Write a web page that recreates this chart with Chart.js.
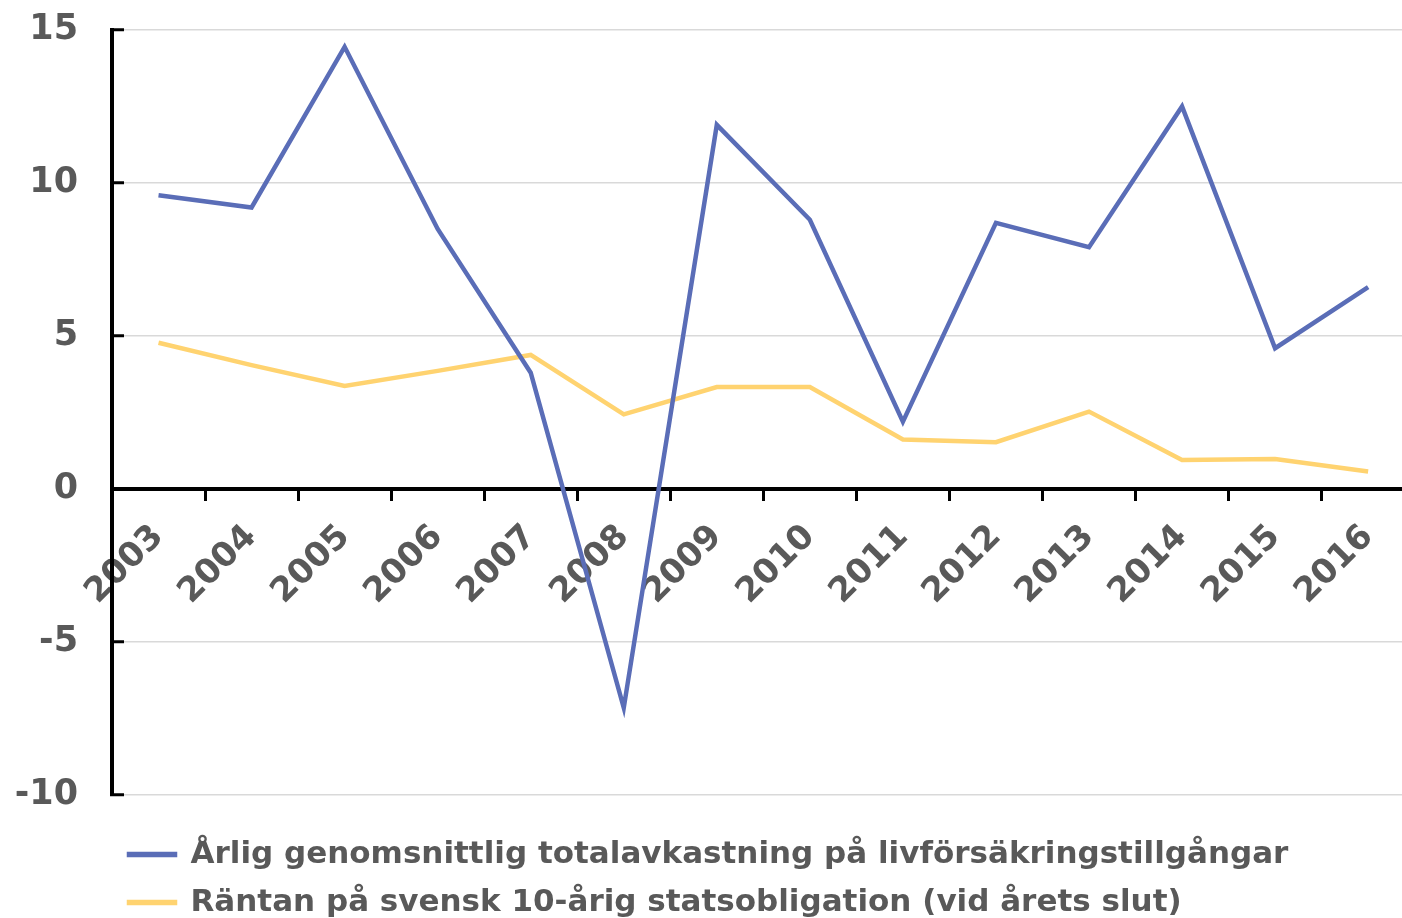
<!DOCTYPE html>
<html>
<head>
<meta charset="utf-8">
<script src="https://cdn.jsdelivr.net/npm/chart.js@4/dist/chart.umd.min.js"></script>
<style>
  html, body { margin: 0; padding: 0; background: #fff; overflow: hidden; }
  #wrap { width: 1415px; height: 965px; position: relative; margin-top: -37px; }
</style>
</head>
<body>
<div id="wrap"><canvas id="myChart"></canvas></div>
<script>
const years = ['2003', '2004', '2005', '2006', '2007', '2008', '2009', '2010', '2011', '2012', '2013', '2014', '2015', '2016'];
const avkastning = [9.6, 9.2, 14.45, 8.5, 3.8, -7.15, 11.9, 8.8, 2.2, 8.7, 7.9, 12.5, 4.6, 6.6];
const ranta = [4.78, 4.05, 3.37, 3.86, 4.38, 2.44, 3.33, 3.33, 1.62, 1.53, 2.53, 0.95, 0.98, 0.57];
const yTicks = [-10, -5, 0, 5, 10, 15];

const blue = '#5A6DB7';
const yellow = '#FFD370';
const grey = '#595959';
const fontFamily = '"DejaVu Sans", Verdana, sans-serif';

const ctx = document.getElementById('myChart');

new Chart(ctx, {
  type: 'line',
  data: {
    labels: years,
    datasets: [{
      label: 'Årlig genomsnittlig totalavkastning på livförsäkringstillgångar',
      data: avkastning,
      borderColor: blue,
      backgroundColor: blue,
      borderWidth: 4.5,
      pointRadius: 0,
      tension: 0
    }, {
      label: 'Räntan på svensk 10-årig statsobligation (vid årets slut)',
      data: ranta,
      borderColor: yellow,
      backgroundColor: yellow,
      borderWidth: 4.5,
      pointRadius: 0,
      tension: 0
    }]
  },
  options: {
    responsive: true,
    maintainAspectRatio: false,
    animation: false,
    layout: { padding: 0 },
    scales: {
      x: {
        type: 'category',
        position: { y: 0 },
        offset: true,
        grid: {
          offset: true,
          drawOnChartArea: false,
          tickLength: 10,
          tickColor: '#000',
          tickWidth: 3
        },
        border: { color: '#000', width: 4 },
        ticks: {
          autoSkip: false,
          minRotation: 45,
          maxRotation: 45,
          padding: 18,
          color: grey,
          font: { family: fontFamily, size: 34, weight: 'bold' }
        }
      },
      y: {
        min: -10,
        max: 15,
        afterBuildTicks: s => { s.ticks = yTicks.map(v => ({ value: v })); },
        afterFit: s => { s.width = 112; },
        grid: {
          color: '#d9d9d9',
          lineWidth: 1.5,
          tickLength: -12,
          tickColor: '#000',
          tickWidth: 3
        },
        border: { color: '#000', width: 4 },
        ticks: {
          padding: 46,
          color: grey,
          font: { family: fontFamily, size: 35, weight: 'bold' }
        }
      }
    },
    plugins: {
      legend: {
        position: 'bottom',
        align: 'start',
        fullSize: false,
        title: { display: true, text: '', padding: { top: 15, bottom: 0 }, font: { size: 10 } },
        labels: {
          boxWidth: 46,
          boxHeight: 1,
          padding: 17,
          color: grey,
          font: { family: fontFamily, size: 31, weight: 'bold' }
        }
      },
      tooltip: { enabled: false }
    }
  }
});
</script>
</body>
</html>
